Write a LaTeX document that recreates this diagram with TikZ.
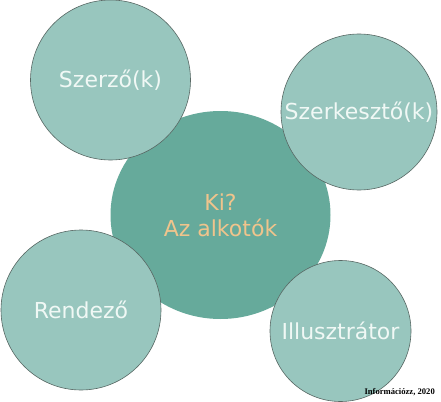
\documentclass[tikz,border=0pt]{standalone}
\usepackage{fontspec}
\setmainfont{DejaVu Sans}
\newfontfamily\footfont{Liberation Serif}
\usepackage{tikz}
\usetikzlibrary{positioning,shapes.geometric}
\definecolor{kozep}{RGB}{102,170,155}
\definecolor{kor}{RGB}{152,198,190}
\definecolor{korvonal}{RGB}{88,104,100}
\definecolor{cimszin}{RGB}{240,196,140}
\definecolor{feher}{RGB}{240,248,245}
\tikzstyle{fokor} = [ellipse, fill=kozep, minimum width=220, minimum height=208, inner sep=0, text=cimszin, align=center, font=\fontsize{22}{26}\selectfont]
\tikzstyle{alkoto} = [circle, fill=kor, draw=korvonal, line width=0.6, inner sep=0, text=feher, font=\fontsize{22}{26}\selectfont]

\begin{document}
\begin{tikzpicture}[x=1pt,y=-1pt]
		\useasboundingbox (0,0) rectangle (441,401);
		\fill[white] (0,0) rectangle (441,401);
		\node[fokor](ki) at (220.5,215) {Ki?\\Az alkotók};
		
		\node[alkoto,minimum size=160](szerzo) at (110.5,80) {Szerző(k)};
		\node[alkoto,minimum size=156](szerk) at (359,112) {Szerkesztő(k)};
		\node[alkoto,minimum size=160](rendezo) at (81,310) {Rendező};
		\node[alkoto,minimum size=141](illusz) at (340.5,331) {Illusztrátor};
		
		\node[anchor=base east,inner sep=0,font=\footfont\bfseries\fontsize{8.6}{9}\selectfont](forras) at (435,394) {Információzz, 2020};
	\end{tikzpicture}
\end{document}
